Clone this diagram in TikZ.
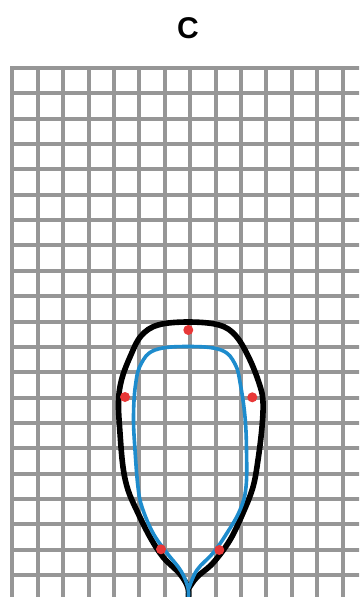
\documentclass[tikz,border=0pt]{standalone}
\usepackage{fontspec}
\setmainfont{Liberation Sans}
\definecolor{gridgray}{RGB}{150,150,150}
\definecolor{curveblue}{RGB}{30,140,205}
\definecolor{dotred}{RGB}{232,55,55}
\tikzset{
  gridline/.style={draw=gridgray, line width=4pt},
  outerline/.style={draw=black, line width=5.6pt, line join=round, line cap=round},
  innerline/.style={draw=curveblue, line width=3.6pt, line join=round, line cap=round},
  reddot/.style={circle, fill=dotred, inner sep=0pt, minimum size=10pt},
  title/.style={font=\bfseries\fontsize{30}{36}\selectfont, inner sep=0pt}
}
\begin{document}
\begin{tikzpicture}[x=1pt,y=-1pt]
\useasboundingbox (0,0) rectangle (359,597);
\fill[white] (0,0) rectangle (359,597);
\begin{scope}
\clip (0,0) rectangle (359,597);
% grid
\foreach \k in {0,...,13} {
  \draw[gridline] ({12.3+25.4*\k},68) -- ({12.3+25.4*\k},600);
}
\foreach \k in {0,...,20} {
  \draw[gridline] (10.3,{68+25.35*\k}) -- (362,{68+25.35*\k});
}
% black outline
\draw[outerline] plot[smooth, tension=0.6] coordinates {
 (188,600) (188,588) (180,574) (163,557) (150,537) (137,511) (128,490) (123,467)
 (120,433) (118.5,402) (121.5,380) (130,357) (141,336) (158,325) (188,322)
 (219,325) (236,336) (250,360) (260,386) (263,402) (262,427) (258,460)
 (253,487) (243,513) (230,540) (213,563) (197,577) (189,588)};
% blue outline
\draw[innerline] plot[smooth, tension=0.65] coordinates {
 (188,600) (188,588) (181,571) (167,553) (153,533) (142,507) (138,487) (135,450)
 (133.5,417) (135.5,385) (141,364) (155,350) (188,346.5) (221,350) (235,364)
 (240.5,385) (245,417) (246.5,450) (246,487) (240,510) (227,533) (213,553)
 (197,570) (189,588)};
\end{scope}
% red dots
\node[reddot] (d1) at (188.3,330) {};
\node[reddot] (d2) at (125,397) {};
\node[reddot] (d3) at (252.3,397.3) {};
\node[reddot] (d4) at (161,549.3) {};
\node[reddot] (d5) at (219.3,550) {};
% title
\node[title] (t) at (188,28) {C};
\end{tikzpicture}
\end{document}
